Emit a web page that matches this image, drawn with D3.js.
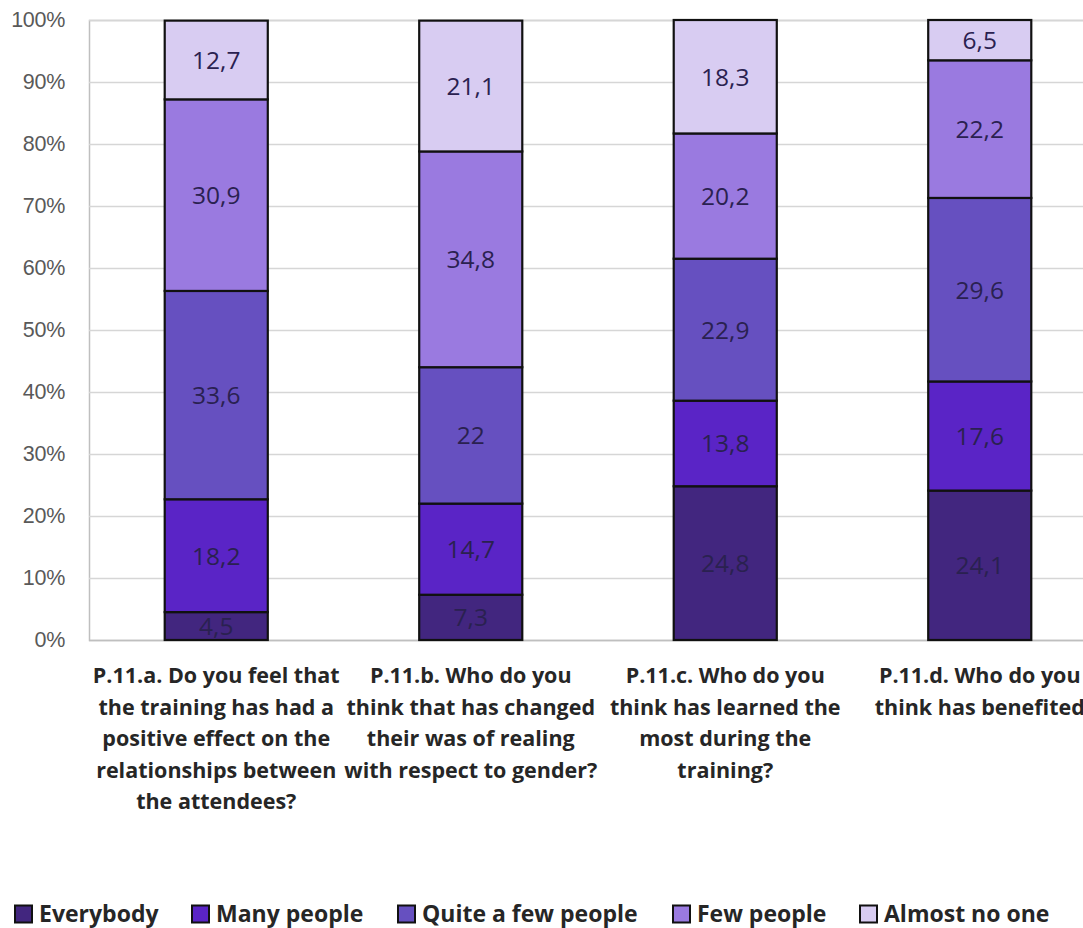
<!DOCTYPE html>
<html>
<head>
<meta charset="utf-8">
<script src="https://cdn.jsdelivr.net/npm/d3@7"></script>
<style>
  html, body { margin: 0; padding: 0; background: #fff; overflow: hidden; }
  svg { display: block; font-family: "Open Sans", Lato, sans-serif; }
</style>
</head>
<body>
<svg id="chart" width="1083" height="928"></svg>
<script>
// Survey questions (category axis), each wrapped into display lines
const questions = ["P.11.a", "P.11.b", "P.11.c", "P.11.d"];
const questionLines = [
  ["P.11.a. Do you feel that", "the training has had a", "positive effect on the", "relationships between", "the attendees?"],
  ["P.11.b. Who do you", "think that has changed", "their was of realing", "with respect to gender?"],
  ["P.11.c. Who do you", "think has learned the", "most during the", "training?"],
  ["P.11.d. Who do you", "think has benefited"]
];

// Answer categories, bottom to top of each stack
const answers = ["Everybody", "Many people", "Quite a few people", "Few people", "Almost no one"];
const answerColors = ["#42267f", "#5a24c6", "#6650c0", "#9a7ae0", "#d8ccf2"];

// Percentages per answer, one value per question
const everybody = [4.5, 7.3, 24.8, 24.1];
const manyPeople = [18.2, 14.7, 13.8, 17.6];
const quiteAFew = [33.6, 22, 22.9, 29.6];
const fewPeople = [30.9, 34.8, 20.2, 22.2];
const almostNoOne = [12.7, 21.1, 18.3, 6.5];

const yTicks = [0, 10, 20, 30, 40, 50, 60, 70, 80, 90, 100];

const seriesValues = [everybody, manyPeople, quiteAFew, fewPeople, almostNoOne];
const rows = questions.map((q, i) => {
  const r = { q };
  answers.forEach((a, k) => { r[a] = seriesValues[k][i]; });
  return r;
});

const svg = d3.select("#chart");
const plot = { left: 89, right: 1107, top: 20, bottom: 640 };

const x = d3.scaleBand()
  .domain(questions)
  .range([plot.left, plot.right])
  .paddingInner(0.595)
  .paddingOuter(0.2975);

const y = d3.scaleLinear().domain([0, 100]).range([plot.bottom, plot.top]);

// Horizontal gridlines and percentage axis
const yAxis = d3.axisLeft(y)
  .tickValues(yTicks)
  .tickFormat(d => d + "%")
  .tickSize(-(1083 - plot.left))
  .tickPadding(24);

const gy = svg.append("g")
  .attr("transform", `translate(${plot.left},0)`)
  .call(yAxis);
gy.select(".domain").attr("stroke", "#bfbfbf").attr("stroke-width", 1.5);
gy.selectAll(".tick line").attr("stroke", "#d6d6d6").attr("stroke-width", 1.5);
gy.selectAll(".tick text")
  .attr("fill", "#595959")
  .attr("font-size", 21.5)
  .attr("letter-spacing", "-0.3px")
  .attr("text-anchor", "end")
  .attr("dx", "0");
gy.selectAll(".tick").filter(d => d === 0).select("line")
  .attr("stroke", "#bfbfbf");

// Stacked bars
const stack = d3.stack().keys(answers);
const layers = stack(rows);

const layerG = svg.append("g").selectAll("g")
  .data(layers)
  .join("g")
  .attr("fill", (d, i) => answerColors[i]);

layerG.selectAll("rect")
  .data(d => d)
  .join("rect")
  .attr("x", d => x(d.data.q))
  .attr("width", x.bandwidth())
  .attr("y", d => y(d[1]))
  .attr("height", d => y(d[0]) - y(d[1]))
  .attr("stroke", "#111")
  .attr("stroke-width", 2.2);

// Value labels in the middle of each segment
layerG.selectAll("text")
  .data((d) => d.map(s => ({ s, key: d.key })))
  .join("text")
  .attr("x", d => x(d.s.data.q) + x.bandwidth() / 2)
  .attr("y", d => y((d.s[0] + d.s[1]) / 2))
  .attr("dy", "0.36em")
  .attr("text-anchor", "middle")
  .attr("font-size", 24.5)
  .attr("fill", "#2a2150")
  .text(d => String(d.s.data[d.key]).replace(".", ","));

// Question labels under the bars
const catG = svg.append("g").selectAll("text")
  .data(questions)
  .join("text")
  .attr("text-anchor", "middle")
  .attr("font-size", 21.5)
  .attr("font-weight", "bold")
  .attr("fill", "#262626")
  .attr("x", d => x(d) + x.bandwidth() / 2)
  .attr("y", 683);

catG.selectAll("tspan")
  .data((d, i) => questionLines[i])
  .join("tspan")
  .attr("x", function () { return d3.select(this.parentNode).attr("x"); })
  .attr("dy", (d, i) => i === 0 ? 0 : 31.5)
  .text(d => d);

// Legend along the bottom
const legendX = [15, 192, 398, 673, 860];
const legend = svg.append("g").selectAll("g")
  .data(answers)
  .join("g")
  .attr("transform", (d, i) => `translate(${legendX[i]},914)`);

legend.append("rect")
  .attr("x", 0)
  .attr("y", -8.5)
  .attr("width", 17)
  .attr("height", 17)
  .attr("fill", (d, i) => answerColors[i])
  .attr("stroke", "#111")
  .attr("stroke-width", 2);

legend.append("text")
  .attr("x", 24)
  .attr("dy", "0.36em")
  .attr("font-size", 23)
  .attr("font-weight", "bold")
  .attr("fill", "#262626")
  .text(d => d);
</script>
</body>
</html>
